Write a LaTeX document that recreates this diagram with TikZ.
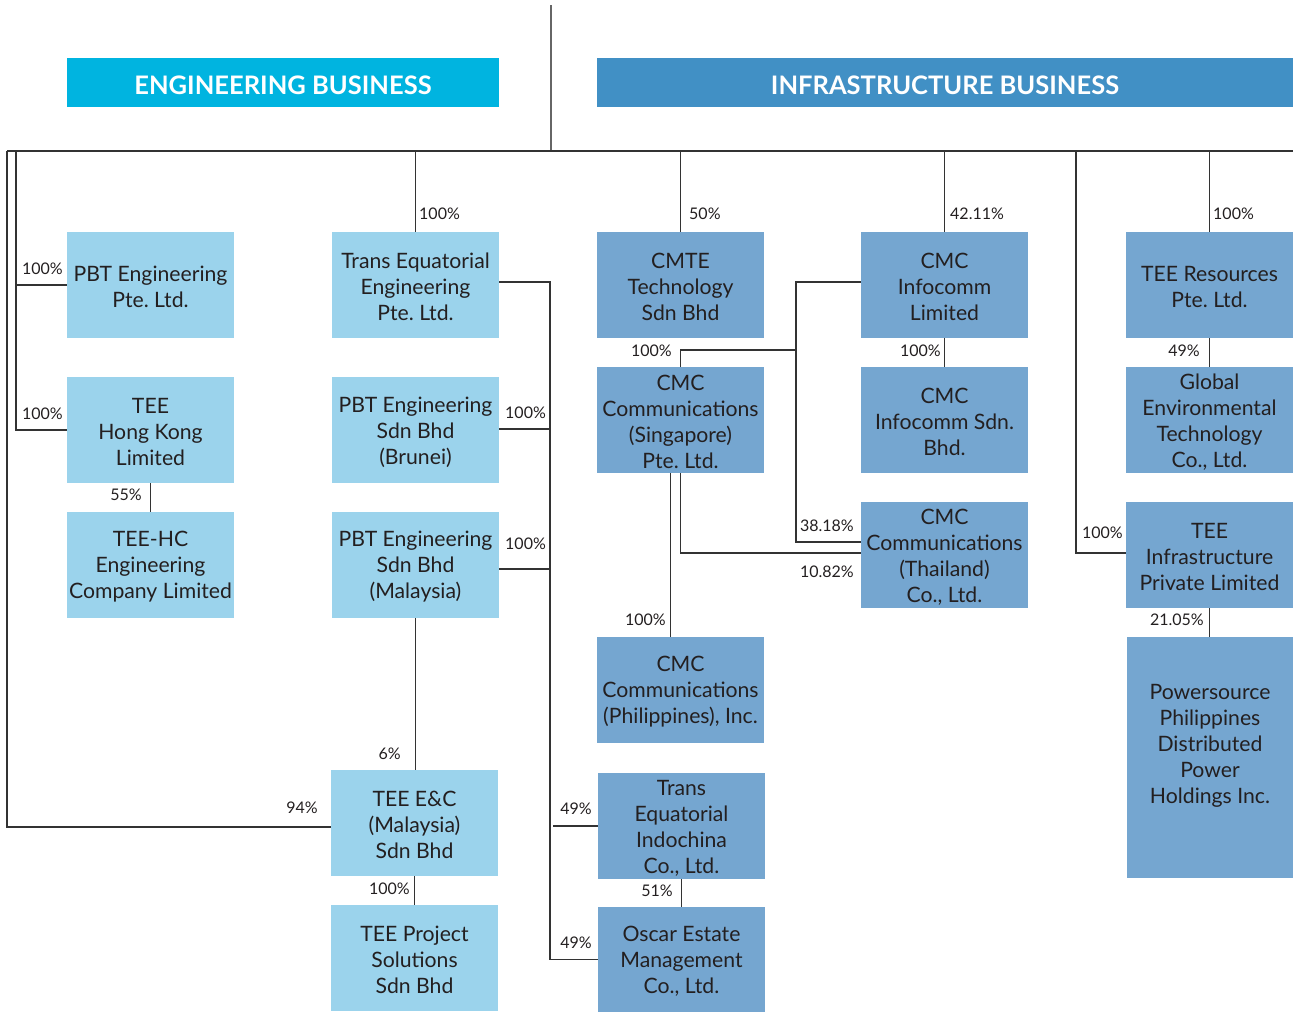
\documentclass[tikz,border=0pt]{standalone}
\usepackage{fontspec}
\setmainfont{Lato}
\frenchspacing
\definecolor{engc}{HTML}{00B4E0}
\definecolor{infc}{HTML}{4190C5}
\definecolor{lbox}{HTML}{9BD3EC}
\definecolor{dbox}{HTML}{75A6D0}
\definecolor{ln}{HTML}{333333}
\definecolor{txt}{HTML}{231F20}
\newcommand\lowr[1]{\raisebox{-2pt}[\height][\depth]{#1}}
\begin{document}
\begin{tikzpicture}[x=1pt,y=-1pt,
  conn/.style={draw=ln,line width=1.1pt},
  boxbase/.style={minimum width=167pt,minimum height=106pt,inner sep=0pt,align=center,text=txt,
    font=\fontsize{21.2}{26}\selectfont},
  ebox/.style={boxbase,fill=lbox},
  ibox/.style={boxbase,fill=dbox},
  head/.style={minimum height=49pt,inner sep=0pt,text=white,font=\fontsize{25.5}{28}\selectfont\bfseries},
  pct/.style={font=\fontsize{16}{18}\selectfont,text=txt,inner sep=0pt}
]
\useasboundingbox (0,0) rectangle (1293,1012);
% headings
\node[head,fill=engc,minimum width=432pt] (eh) at (283,82.5) {\raisebox{-2.5pt}[\height][\depth]{ENGINEERING BUSINESS}};
\node[head,fill=infc,minimum width=696pt] (ih) at (945,82.5) {\raisebox{-2.5pt}[\height][\depth]{INFRASTRUCTURE BUSINESS}};
% engineering boxes
\node[ebox] (pbtp) at (150.5,285) {\lowr{PBT Engineering}\\\lowr{Pte. Ltd.}};
\node[ebox] (teehk) at (150.5,430) {\lowr{TEE}\\\lowr{Hong Kong}\\\lowr{Limited}};
\node[ebox] (teehc) at (150.5,565) {\lowr{TEE-HC}\\\lowr{Engineering}\\\lowr{Company Limited}};
\node[ebox] (teeng) at (415.5,285) {\lowr{Trans Equatorial}\\\lowr{Engineering}\\\lowr{Pte. Ltd.}};
\node[ebox] (pbtb) at (415.5,430) {\lowr{PBT Engineering}\\\lowr{Sdn Bhd}\\\lowr{(Brunei)}};
\node[ebox] (pbtm) at (415.5,565) {\lowr{PBT Engineering}\\\lowr{Sdn Bhd}\\\lowr{(Malaysia)}};
\node[ebox] (tec) at (414.5,823) {\lowr{TEE E\&C}\\\lowr{(Malaysia)}\\\lowr{Sdn Bhd}};
\node[ebox] (tps) at (414.5,958) {\lowr{TEE Project}\\\lowr{Solutions}\\\lowr{Sdn Bhd}};
% infrastructure boxes
\node[ibox] (cmte) at (680.5,285) {\lowr{CMTE}\\\lowr{Technology}\\\lowr{Sdn Bhd}};
\node[ibox] (cmcs) at (680.5,420) {\lowr{CMC}\\\lowr{Communications}\\\lowr{(Singapore)}\\\lowr{Pte. Ltd.}};
\node[ibox] (cmcp) at (680.5,690) {\lowr{CMC}\\\lowr{Communications}\\\lowr{(Philippines), Inc.}};
\node[ibox] (tei) at (681.5,826) {\lowr{Trans}\\\lowr{Equatorial}\\\lowr{Indochina}\\\lowr{Co., Ltd.}};
\node[ibox,minimum height=105pt] (oscar) at (681.5,959.5) {\lowr{Oscar Estate}\\\lowr{Management}\\\lowr{Co., Ltd.}};
\node[ibox] (cmci) at (944.5,285) {\lowr{CMC}\\\lowr{Infocomm}\\\lowr{Limited}};
\node[ibox] (cmcis) at (944.5,420) {\lowr{CMC}\\\lowr{Infocomm Sdn.}\\\lowr{Bhd.}};
\node[ibox] (thai) at (944.5,555) {\lowr{CMC}\\\lowr{Communications}\\\lowr{(Thailand)}\\\lowr{Co., Ltd.}};
\node[ibox] (teer) at (1209.5,285) {\lowr{TEE Resources}\\\lowr{Pte. Ltd.}};
\node[ibox] (get) at (1209.5,420) {\lowr{Global}\\\lowr{Environmental}\\\lowr{Technology}\\\lowr{Co., Ltd.}};
\node[ibox] (teei) at (1209.5,555) {\lowr{TEE}\\\lowr{Infrastructure}\\\lowr{Private Limited}};
\node[ibox,minimum width=166pt,minimum height=241pt] (ps) at (1210,757.5) {};
\node[boxbase,minimum height=0pt] (pst) at (1210,746) {Powersource\\Philippines\\Distributed\\Power\\Holdings Inc.};
% bus coordinates
\coordinate (top) at (551,5);
\coordinate (hub) at (551,151);
\coordinate (hl) at (7,151);
\coordinate (hr) at (1293,151);
\coordinate (l2) at (16,151);
\coordinate (rb) at (1076,151);
\coordinate (busx) at (550,0);
\coordinate (ibus) at (796,0);
\coordinate (j1) at (796,350);
% connectors
\draw[draw=ln!75,line width=1.3pt] (top) -- (hub);
\draw[conn] (hl) -- (hr);
\draw[conn] (hl) |- ([yshift=-4pt]tec.west);
\draw[conn] (l2) |- (pbtp.west);
\draw[conn] (l2) |- (teehk.west);
\draw[conn] (teehk.south) -- (teehc.north);
\draw[conn] (teeng.north) -- (teeng.north |- hl);
\draw[conn] ([yshift=3pt]teeng.east) -- ([yshift=3pt]teeng.east -| busx) |- (oscar.west);
\draw[conn] ([yshift=1pt]pbtb.east) -- ([yshift=1pt]pbtb.east -| busx);
\draw[conn] ([yshift=-4pt]pbtm.east) -- ([yshift=-4pt]pbtm.east -| busx);
\draw[conn] (tei.west) -- ([xshift=3pt]tei.west -| busx);
\draw[conn] (pbtm.south) -- (pbtm.south |- tec.north);
\draw[conn] (tec.south) -- (tps.north);
\draw[conn] (tei.south) -- (oscar.north);
\draw[conn] (cmte.north) -- (cmte.north |- hl);
\draw[conn] (cmci.north) -- (cmci.north |- hl);
\draw[conn] (teer.north) -- (teer.north |- hl);
\draw[conn] (rb) |- ([yshift=2pt]teei.west);
\draw[conn] (cmci.south) -- (cmcis.north);
\draw[conn] (teer.south) -- (get.north);
\draw[conn] (teei.south) -- (teei.south |- ps.north);
\draw[conn] ([yshift=3pt]cmci.west) -- ([yshift=3pt]cmci.west -| ibus) |- ([yshift=13pt]thai.west);
\draw[conn] (j1) -| (cmcs.north);
\draw[conn] (cmcs.south) |- ([yshift=2pt]thai.west);
\draw[conn] ([xshift=-10pt]cmcs.south) -- ([xshift=-10pt]cmcs.south |- cmcp.north);
% percentages
\node[pct,anchor=west] (p1) at (419,214) {100\%};
\node[pct,anchor=west] (p2) at (689,214) {50\%};
\node[pct,anchor=west] (p3) at (950,214) {42.11\%};
\node[pct,anchor=west] (p4) at (1213,214) {100\%};
\node[pct,anchor=east] (p5) at (63,269) {100\%};
\node[pct,anchor=east] (p6) at (63,414) {100\%};
\node[pct,anchor=east] (p7) at (142,495) {55\%};
\node[pct,anchor=west] (p8) at (505,413) {100\%};
\node[pct,anchor=west] (p9) at (505,544) {100\%};
\node[pct,anchor=east] (p10) at (401,754) {6\%};
\node[pct,anchor=east] (p11) at (318,808) {94\%};
\node[pct,anchor=east] (p12) at (410,889) {100\%};
\node[pct,anchor=east] (p13) at (592,809) {49\%};
\node[pct,anchor=east] (p14) at (592,943) {49\%};
\node[pct,anchor=east] (p15) at (673,891) {51\%};
\node[pct,anchor=east] (p16) at (672,351) {100\%};
\node[pct,anchor=east] (p17) at (666,620) {100\%};
\node[pct,anchor=east] (p18) at (854,526) {38.18\%};
\node[pct,anchor=east] (p19) at (854,572) {10.82\%};
\node[pct,anchor=east] (p20) at (941,351) {100\%};
\node[pct,anchor=east] (p21) at (1200,351) {49\%};
\node[pct,anchor=east] (p22) at (1204,620) {21.05\%};
\node[pct,anchor=east] (p23) at (1123,533) {100\%};
\end{tikzpicture}
\end{document}
